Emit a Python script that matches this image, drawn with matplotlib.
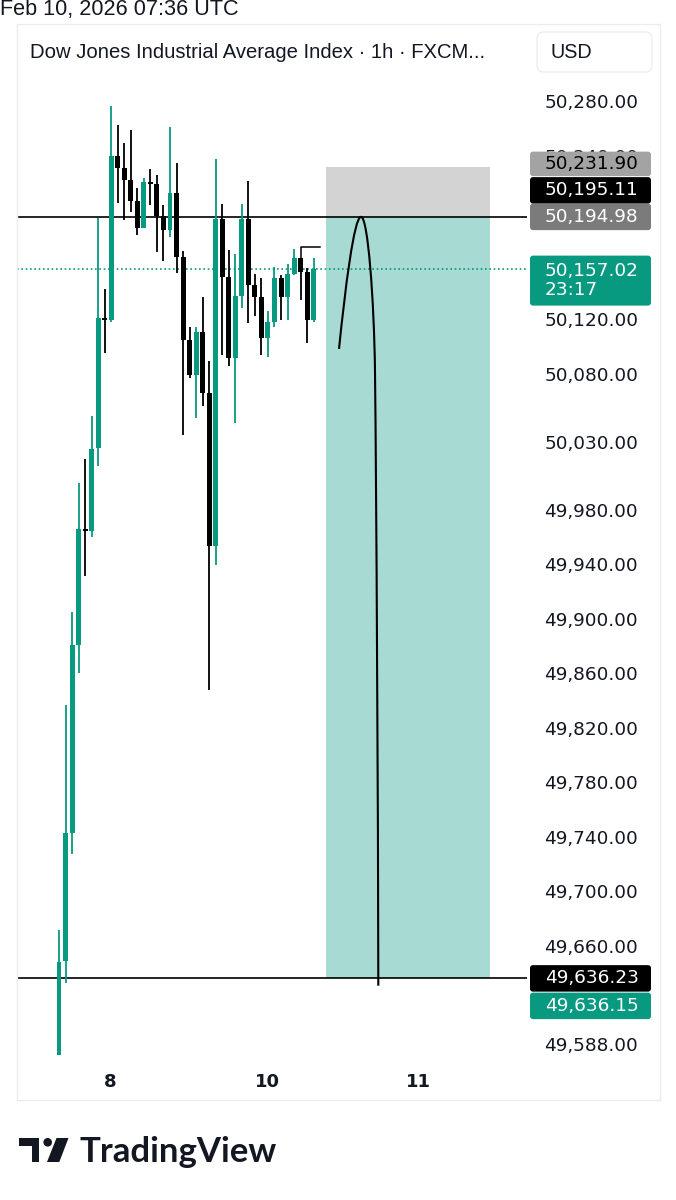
import matplotlib
matplotlib.use("Agg")
import matplotlib.pyplot as plt
from matplotlib.patches import Rectangle, FancyBboxPatch, PathPatch, Circle, Polygon
from matplotlib.path import Path
import numpy as np

# ---------------- data ----------------
opens = [49580.2, 49649.2, 49743.1, 49881.0, 49966.1, 49964.6, 50025.5, 50120.8, 50119.4, 50239.7,
         50230.9, 50222.1, 50206.6, 50186.8, 50220.6, 50219.1, 50195.6, 50185.4, 50212.5, 50165.6,
         50104.7, 50079.0, 50110.6, 50065.8, 49953.6, 50193.4, 50150.9, 50091.5, 50137.0, 50193.4,
         50145.0, 50136.2, 50106.2, 50117.9, 50150.2, 50136.2, 50153.1, 50164.8, 50154.6, 50119.4]
highs = [49671.9, 49837.0, 49905.2, 49999.8, 50017.4, 50048.9, 50194.2, 50142.1, 50276.3, 50262.4,
         50249.2, 50258.7, 50216.2, 50223.5, 50230.1, 50225.7, 50203.7, 50260.9, 50234.5, 50170.0,
         50114.2, 50114.2, 50136.2, 50089.3, 50237.5, 50204.4, 50170.7, 50167.8, 50204.4, 50221.3,
         50153.1, 50150.2, 50126.0, 50158.2, 50152.4, 50160.4, 50171.4, 50164.8, 50157.5, 50164.8]
lows = [49580.2, 49633.1, 49727.7, 49860.4, 49931.6, 49960.2, 50012.3, 50095.2, 50117.9, 50205.2,
        50192.7, 50198.6, 50181.7, 50186.8, 50203.7, 50169.2, 50162.6, 50180.2, 50153.8, 50035.0,
        50076.8, 50047.5, 50056.3, 49848.0, 49939.7, 50093.7, 50085.6, 50043.8, 50128.2, 50117.2,
        50122.3, 50093.7, 50092.2, 50114.2, 50119.4, 50119.4, 50152.4, 50134.0, 50102.5, 50117.9]
closes = [49648.5, 49743.1, 49881.0, 49966.1, 49964.6, 50024.7, 50120.8, 50119.4, 50239.7, 50230.9,
          50222.1, 50206.6, 50186.8, 50220.6, 50219.1, 50195.6, 50185.4, 50212.5, 50165.6, 50104.7,
          50079.0, 50110.6, 50065.8, 49953.6, 50193.4, 50150.9, 50091.5, 50137.0, 50193.4, 50145.0,
          50136.2, 50106.2, 50117.9, 50150.2, 50136.2, 50153.1, 50164.8, 50154.6, 50119.4, 50157.02]

ytick_values = [50280, 50240, 50120, 50080, 50030, 49980, 49940, 49900, 49860,
                49820, 49780, 49740, 49700, 49660, 49588]
xtick_positions = [7.9, 31.9, 55.0]
xtick_labels = ["8", "10", "11"]

stop_price = 50231.90
entry_price = 50194.98
target_price = 49636.23
last_price = 50157.02
box_start, box_end = 40.9, 66.0

label_prices = [50231.90, 50195.11, 50194.98, 50157.02, 49636.23, 49636.15]
label_texts = ["50,231.90", "50,195.11", "50,194.98", "50,157.02\n23:17", "49,636.23", "49,636.15"]

marker_x = [37, 37, 40]
marker_y = [50164.8, 50172.9, 50172.9]

# hand-drawn arc (bezier control points: candle index, price)
arc_x = [42.88, 43.80, 45.18, 46.25, 47.32, 48.24, 48.39, 48.62, 48.85, 48.90]
arc_y = [50098.1, 50141.4, 50195.0, 50195.0, 50195.0, 50134.0, 50082.7, 49987.3, 49767.3, 49630.9]

TEAL = "#089981"
INK = "#131722"

# ---------------- figure ----------------
W, H = 676, 1200
fig = plt.figure(figsize=(W / 100, H / 100), dpi=100)
fig.patch.set_facecolor("white")

AX_L, AX_R, AX_T, AX_B = 17, 527, 80, 1062
ax = fig.add_axes([AX_L / W, 1 - AX_B / H, (AX_R - AX_L) / W, (AX_B - AX_T) / H])
ax.set_facecolor("none")
for s in ax.spines.values():
    s.set_visible(False)

ppu = 845 / 620.0
ax.set_ylim(50280 - (AX_B - 101) / ppu, 50280 + (101 - AX_T) / ppu)
step = 6.53
ax.set_xlim((AX_L - 59) / step, (AX_R - 59) / step)

o = np.array(opens); c = np.array(closes); hi = np.array(highs); lo = np.array(lows)
idx = np.arange(len(o))
cols = np.where(c >= o, TEAL, "#000000")

# position boxes
ax.add_patch(Rectangle((box_start, entry_price), box_end - box_start, stop_price - entry_price,
                       facecolor="#d3d3d3", edgecolor="none", zorder=1))
ax.add_patch(Rectangle((box_start, target_price), box_end - box_start, entry_price - target_price,
                       facecolor="#a6dad2", edgecolor="none", zorder=1))

ax.axhline(entry_price, color="black", lw=1.2, zorder=2)
ax.axhline(target_price, color="black", lw=1.2, zorder=2)
ax.axhline(last_price, color=TEAL, lw=1.2, ls=(0, (1, 1.6)), zorder=2)

ax.vlines(idx, lo, hi, colors=cols, linewidth=1.3, zorder=3)
bottom = np.minimum(o, c)
height = np.maximum(np.abs(c - o), 1.3)
ax.bar(idx, height, bottom=bottom, width=0.76, color=cols, linewidth=0, zorder=4)

ax.plot(marker_x, marker_y, color="black", lw=1.1, zorder=5)

codes = [Path.MOVETO] + [Path.CURVE4] * 9
arc = Path(list(zip(arc_x, arc_y)), codes)
ax.add_patch(PathPatch(arc, facecolor="none", edgecolor="black", lw=1.5, zorder=5))

ax.yaxis.tick_right()
ax.set_yticks(ytick_values)
ax.set_yticklabels([f"{v:,.2f}" for v in ytick_values])
ax.tick_params(axis="y", length=0, pad=12.3, labelsize=13.3, labelcolor=INK)
for lb in ax.get_yticklabels():
    lb.set_fontfamily("DejaVu Sans")
ax.set_xticks(xtick_positions)
ax.set_xticklabels(xtick_labels)
ax.tick_params(axis="x", length=0, pad=8, labelsize=13, labelcolor=INK)
for lb in ax.get_xticklabels():
    lb.set_fontfamily("DejaVu Sans")
    lb.set_fontweight("bold")

# ---------------- overlay (pixel coords) ----------------
ov = fig.add_axes([0, 0, 1, 1], zorder=5)
ov.set_xlim(0, W)
ov.set_ylim(H, 0)
ov.axis("off")
ov.patch.set_alpha(0)


def py(price):
    return H - ax.transData.transform((0, price))[1]


# pane frame
ov.add_patch(Rectangle((17, 24), 643, 1076, fill=False, ec="#ececec", lw=1.0))

# header
ov.text(0, 10, "Feb 10, 2026 07:36 UTC", fontsize=15.6, family="Liberation Sans",
        color=INK, va="center", ha="left")
ov.text(30, 53, "Dow Jones Industrial Average Index · 1h · FXCM...", fontsize=14.6,
        family="Liberation Sans", color=INK, va="center", ha="left")
ov.add_patch(FancyBboxPatch((537, 32), 115, 40, boxstyle="round,pad=0,rounding_size=7",
                            fc="white", ec="#efefef", lw=1.0))
ov.text(551, 52, "USD", fontsize=14.2, family="Liberation Sans", color=INK, va="center")

# price labels
BH = 26.5
y_entry = py(label_prices[2])
y_target = py(label_prices[4])
centers = [
    min(py(label_prices[0]), y_entry - 2 * BH),
    y_entry - BH,
    y_entry,
    py(label_prices[3]) + 12,
    y_target,
    y_target + BH + 1,
]
heights = [BH - 2, BH, BH, 50, BH, BH]
fills = ["#a3a3a3", "#000000", "#7b7b7b", TEAL, "#000000", TEAL]
tcols = ["#000000", "white", "white", "white", "white", "white"]
for txt, cy, h, fc, tc in zip(label_texts, centers, heights, fills, tcols):
    ov.add_patch(FancyBboxPatch((530, cy - h / 2), 121, h,
                                boxstyle="round,pad=0,rounding_size=3", fc=fc, ec="none"))
    ov.text(545, cy, txt, fontsize=13.3, family="DejaVu Sans", color=tc,
            va="center", ha="left", linespacing=1.1)

# TradingView logo
ov.add_patch(Polygon([(19.3, 1138), (39.3, 1138), (39.3, 1162), (31.7, 1162),
                      (31.7, 1146), (19.3, 1146)], closed=True, fc="#131722", ec="none"))
ov.add_patch(Circle((47.7, 1142.3), 4.3, fc="#131722", ec="none"))
ov.add_patch(Polygon([(56.5, 1138), (68.5, 1138), (59.3, 1162), (47.0, 1162)],
                     closed=True, fc="#131722", ec="none"))
ov.text(80, 1162, "TradingView", fontsize=25, family="Lato", fontweight="bold",
        color="#131722", va="baseline", ha="left")

fig.savefig("out.png", dpi=100, facecolor="white")
